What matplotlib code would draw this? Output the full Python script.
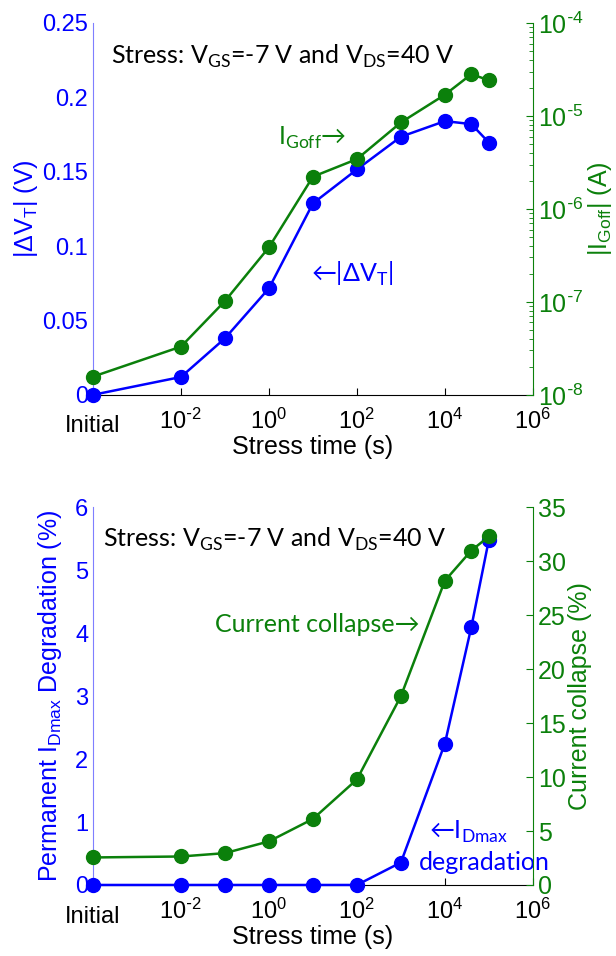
import numpy as np
import matplotlib
matplotlib.use('Agg')
import matplotlib.pyplot as plt

plt.rcParams['font.family'] = ['Liberation Sans', 'DejaVu Sans']
plt.rcParams['mathtext.fontset'] = 'custom'
plt.rcParams['mathtext.rm'] = 'Lato'
plt.rcParams['mathtext.sf'] = 'Liberation Sans'
plt.rcParams['mathtext.it'] = 'Liberation Sans'
plt.rcParams['mathtext.default'] = 'sf'

# stress times (s); "Initial" is drawn at 1e-4
stress_time = [1e-4, 1e-2, 1e-1, 1e0, 1e1, 1e2, 1e3, 1e4, 4e4, 1e5]
x_ticks = [1e-4, 1e-2, 1e0, 1e2, 1e4, 1e6]
x_ticklabels = ['Initial', r'$10^{\text{-}2}$', '$10^{0}$', '$10^{2}$', '$10^{4}$', '$10^{6}$']

# top panel
delta_vt = [0.0, 0.012, 0.038, 0.0716, 0.1287, 0.1515, 0.1735, 0.184, 0.182, 0.1696]
i_goff = [1.57e-8, 3.3e-8, 1.02e-7, 3.86e-7, 2.22e-6, 3.43e-6, 8.5e-6, 1.69e-5, 2.81e-5, 2.42e-5]

# bottom panel
idmax_deg = [0, 0, 0, 0, 0, 0, 0.357, 2.247, 4.10, 5.485]
current_collapse = [2.55, 2.64, 2.95, 4.04, 6.12, 9.78, 17.5, 28.2, 31.0, 32.3]

blue = '#0000ff'
green = '#0b800b'
tick_fs = 17
ann_font = ['Lato', 'DejaVu Sans']
stress_txt = r'Stress: V$_\text{GS}$=-7 V and V$_\text{DS}$=40 V'

fig = plt.figure(figsize=(6.16, 9.56), dpi=100)


def setup_axes(ax, ax2):
    ax.set_xscale('log')
    ax.set_xlim(1e-4, 1e6)
    ax.set_xticks(x_ticks)
    ax.set_xticklabels(x_ticklabels, fontsize=tick_fs)
    ax.get_xticklabels()[0].set_y(-0.018)
    ax.xaxis.set_minor_locator(matplotlib.ticker.NullLocator())
    ax.tick_params(axis='x', direction='in', length=5, pad=10, colors='black')
    ax.tick_params(axis='y', direction='in', length=0, colors=blue, labelsize=tick_fs)
    ax.spines['top'].set_visible(False)
    ax.spines['right'].set_visible(False)
    ax.spines['left'].set_color('#7f7fff')
    ax.spines['bottom'].set_color('black')
    ax2.spines['top'].set_visible(False)
    ax2.spines['left'].set_visible(False)
    ax2.spines['bottom'].set_visible(False)
    ax2.spines['right'].set_color(green)
    ax2.tick_params(axis='y', which='both', direction='in', colors=green, labelsize=tick_fs + 1)
    ax.set_xlabel('Stress time (s)', fontsize=18, labelpad=-2)


# ---- top panel ----
ax1 = fig.add_axes([0.151, 0.587, 0.714, 0.389])
ax1b = ax1.twinx()
setup_axes(ax1, ax1b)
ax1.plot(stress_time, delta_vt, '-o', color=blue, lw=1.8, ms=10, clip_on=False, zorder=3)
ax1.set_ylim(0, 0.25)
ax1.set_yticks([0, 0.05, 0.1, 0.15, 0.2, 0.25])
ax1.set_yticklabels(['0', '0.05', '0.1', '0.15', '0.2', '0.25'])
ax1.set_ylabel(r'$|\Delta V_T|$ (V)', color=blue, fontsize=18, labelpad=2)

ax1b.plot(stress_time, i_goff, '-o', color=green, lw=1.8, ms=10, clip_on=False, zorder=3)
ax1b.set_yscale('log')
ax1b.set_ylim(1e-8, 1e-4)
ax1b.set_yticks([1e-8, 1e-7, 1e-6, 1e-5, 1e-4])
ax1b.set_yticklabels([r'$10^{\text{-}8}$', r'$10^{\text{-}7}$', r'$10^{\text{-}6}$',
                      r'$10^{\text{-}5}$', r'$10^{\text{-}4}$'])
ax1b.tick_params(axis='y', which='major', length=5)
ax1b.tick_params(axis='y', which='minor', length=3)
ax1b.set_ylabel(r'$|I_{Goff}|$ (A)', color=green, fontsize=18, labelpad=2)

ax1.text(0.04, 0.91, stress_txt, transform=ax1.transAxes, fontsize=18, color='black',
         va='center', family=ann_font)
ax1.text(0.42, 0.69, r'I$_\text{Goff}$' + '\u2192', transform=ax1.transAxes,
         fontsize=18, color=green, va='center', family=ann_font)
ax1.text(0.495, 0.325, '\u2190|\u0394V' + r'$_\text{T}$' + '|', transform=ax1.transAxes,
         fontsize=18, color=blue, va='center', family=ann_font)

# ---- bottom panel ----
ax2 = fig.add_axes([0.151, 0.0743, 0.714, 0.395])
ax2b = ax2.twinx()
setup_axes(ax2, ax2b)
ax2.plot(stress_time, idmax_deg, '-o', color=blue, lw=1.8, ms=10, clip_on=False, zorder=3)
ax2.set_ylim(0, 6)
ax2.set_yticks([0, 1, 2, 3, 4, 5, 6])
ax2.set_ylabel(r'Permanent $I_{Dmax}$ Degradation (%)', color=blue, fontsize=18, labelpad=8)

ax2b.plot(stress_time, current_collapse, '-o', color=green, lw=1.8, ms=10, clip_on=False, zorder=3)
ax2b.set_ylim(0, 35)
ax2b.set_yticks([0, 5, 10, 15, 20, 25, 30, 35])
ax2b.tick_params(axis='y', which='major', length=5)
ax2b.set_ylabel('Current collapse (%)', color=green, fontsize=18, labelpad=2)

ax2.text(0.023, 0.915, stress_txt, transform=ax2.transAxes, fontsize=18, color='black',
         va='center', family=ann_font)
ax2.text(0.278, 0.69, 'Current collapse\u2192', transform=ax2.transAxes,
         fontsize=18, color=green, va='center', family=ann_font)
ax2.text(0.765, 0.14, '\u2190I' + r'$_\text{Dmax}$', transform=ax2.transAxes,
         fontsize=18, color=blue, va='center', family=ann_font)
ax2.text(0.74, 0.06, 'degradation', transform=ax2.transAxes,
         fontsize=18, color=blue, va='center', family=ann_font)

fig.savefig('out.png', dpi=100)
